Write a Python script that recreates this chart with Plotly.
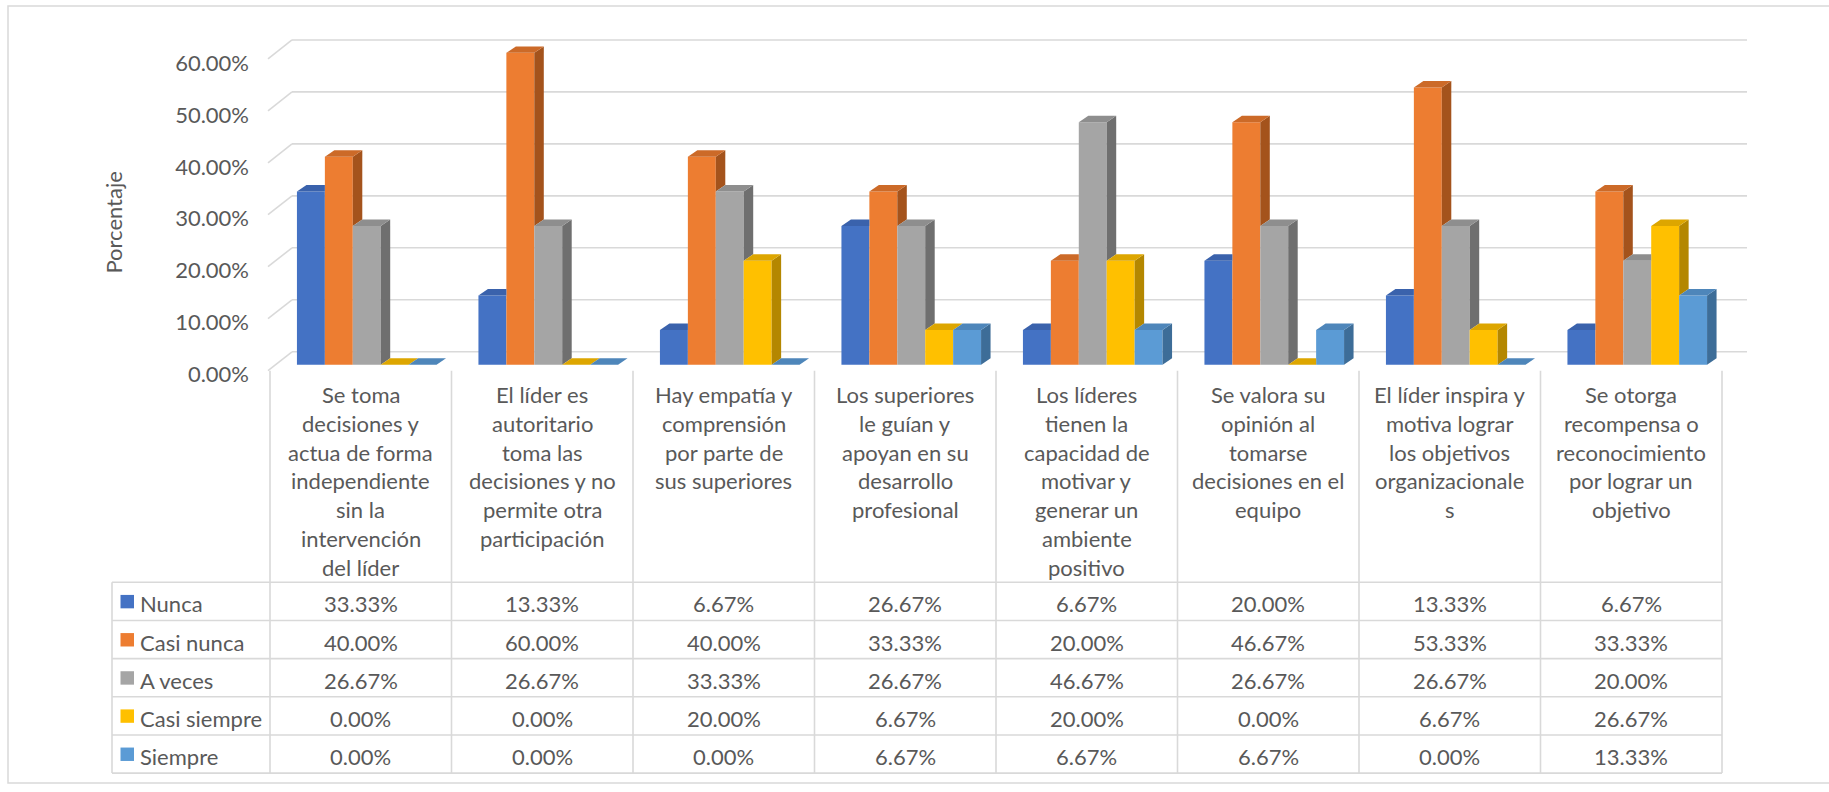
import plotly.graph_objects as go

# ---------------- data ----------------
categories = [
    "Se toma<br>decisiones y<br>actua de forma<br>independiente<br>sin la<br>intervención<br>del líder",
    "El líder es<br>autoritario<br>toma las<br>decisiones y no<br>permite otra<br>participación",
    "Hay empatía y<br>comprensión<br>por parte de<br>sus superiores",
    "Los superiores<br>le guían y<br>apoyan en su<br>desarrollo<br>profesional",
    "Los líderes<br>tienen la<br>capacidad de<br>motivar y<br>generar un<br>ambiente<br>positivo",
    "Se valora su<br>opinión al<br>tomarse<br>decisiones en el<br>equipo",
    "El líder inspira y<br>motiva lograr<br>los objetivos<br>organizacionale<br>s",
    "Se otorga<br>recompensa o<br>reconocimiento<br>por lograr un<br>objetivo",
]
series_names = ["Nunca", "Casi nunca", "A veces", "Casi siempre", "Siempre"]
nunca = [0.3333, 0.1333, 0.0667, 0.2667, 0.0667, 0.2000, 0.1333, 0.0667]
casi_nunca = [0.4000, 0.6000, 0.4000, 0.3333, 0.2000, 0.4667, 0.5333, 0.3333]
a_veces = [0.2667, 0.2667, 0.3333, 0.2667, 0.4667, 0.2667, 0.2667, 0.2000]
casi_siempre = [0.0000, 0.0000, 0.2000, 0.0667, 0.2000, 0.0000, 0.0667, 0.2667]
siempre = [0.0000, 0.0000, 0.0000, 0.0667, 0.0667, 0.0667, 0.0000, 0.1333]
y_ticks = [0, 0.1, 0.2, 0.3, 0.4, 0.5, 0.6]

series = [nunca, casi_nunca, a_veces, casi_siempre, siempre]
front_colors = ["#4472C4", "#ED7D31", "#A5A5A5", "#FFC000", "#5B9BD5"]
top_colors = ["#3A62AC", "#CC6A28", "#8E8E8E", "#DDA600", "#4E86BA"]
side_colors = ["#2E5597", "#A4531C", "#6F6F6F", "#B48700", "#3D6D98"]

# ---------------- geometry (pixels) ----------------
W, H = 1829, 792
TX0, CW = 270, 181.5          # table first column line, column width
SHIFT = 6                     # bar plane horizontal shift
Y0PX, YSCALE = 367, 523       # bar plane zero, px per unit
XD0, XD1 = 250, 1760
YD_TOP, YD_BOT = 20, 385
TEXT = "#595959"
GRID = "#D9D9D9"
FONT = "Lato"
FS = 22


def xdata(px):
    return (px - (TX0 + SHIFT)) / CW - 0.5


def ydata(px):
    return (Y0PX - px) / YSCALE


def fx(px):
    return px / W


def fy(py):
    return 1 - py / H


n_ser = len(series)
group_w = 5 / 6.5
bw = group_w / n_ser
DX = 9.5 / CW
DY = 6.5 / YSCALE

fig = go.Figure()

# front faces
for j, (name, vals) in enumerate(zip(series_names, series)):
    fig.add_trace(go.Bar(
        x=list(range(len(categories))), y=vals, name=name,
        marker=dict(color=front_colors[j], line=dict(width=0)),
        width=bw, offset=-group_w / 2 + j * bw, showlegend=False,
        hoverinfo="skip",
    ))

# side and top faces (3-D look)
for i in range(len(categories)):
    for j in range(n_ser):
        v = series[j][i]
        x0 = i - group_w / 2 + j * bw
        x1 = x0 + bw
        nxt = series[j + 1][i] if j + 1 < n_ser else None
        # side face
        low = 0 if nxt is None else nxt
        if v > low:
            xs = [x1, x1 + DX, x1 + DX, x1, x1]
            ys = [low, low + DY, v + DY, v, low]
            fig.add_trace(go.Scatter(x=xs, y=ys, fill="toself", mode="lines",
                                     line=dict(width=0), fillcolor=side_colors[j],
                                     showlegend=False, hoverinfo="skip"))
        # top face
        if nxt is not None and nxt > v:
            xs = [x0, x0 + DX, x1, x1, x0]
            ys = [v, v + DY, v + DY, v, v]
        else:
            xs = [x0, x0 + DX, x1 + DX, x1, x0]
            ys = [v, v + DY, v + DY, v, v]
        fig.add_trace(go.Scatter(x=xs, y=ys, fill="toself", mode="lines",
                                 line=dict(width=0), fillcolor=top_colors[j],
                                 showlegend=False, hoverinfo="skip"))

shapes = []
# gridlines (back wall + side wall diagonals)
for v in y_ticks:
    yb = v + 13 / YSCALE
    yf = v - 6 / YSCALE
    shapes.append(dict(type="line", xref="x", yref="y", layer="below",
                       x0=xdata(292), x1=xdata(1747), y0=yb, y1=yb,
                       line=dict(color=GRID, width=1.6)))
    shapes.append(dict(type="line", xref="x", yref="y", layer="below",
                       x0=xdata(268), x1=xdata(292), y0=yf, y1=yb,
                       line=dict(color=GRID, width=1.6)))

# outer chart border (left, top, bottom; right side is beyond the view)
shapes.append(dict(type="path", xref="paper", yref="paper",
                   path=f"M {fx(W + 5)},{fy(6)} L {fx(8)},{fy(6)} L {fx(8)},{fy(788)} L {fx(W + 5)},{fy(788)}",
                   line=dict(color=GRID, width=1.5)))

# data table
ROW_TOP, ROW_H = 586, 38.4
TAB_L = 112
n_cat = len(categories)
TAB_R = TX0 + CW * n_cat
TAB_B = ROW_TOP + ROW_H * n_ser
for k in range(n_cat + 1):
    xk = TX0 + CW * k
    shapes.append(dict(type="line", xref="paper", yref="paper",
                       x0=fx(xk), x1=fx(xk), y0=fy(373), y1=fy(TAB_B),
                       line=dict(color=GRID, width=1.6)))
shapes.append(dict(type="line", xref="paper", yref="paper",
                   x0=fx(TAB_L), x1=fx(TAB_L), y0=fy(ROW_TOP), y1=fy(TAB_B),
                   line=dict(color=GRID, width=1.6)))
for r in range(n_ser + 1):
    yr = ROW_TOP + ROW_H * r
    shapes.append(dict(type="line", xref="paper", yref="paper",
                       x0=fx(TAB_L), x1=fx(TAB_R), y0=fy(yr), y1=fy(yr),
                       line=dict(color=GRID, width=1.6)))

annotations = []
# header (category) labels
for k, cat in enumerate(categories):
    cx = TX0 + CW * (k + 0.5)
    for li, line in enumerate(cat.split("<br>")):
        annotations.append(dict(xref="paper", yref="paper", x=fx(cx), y=fy(397 + 29 * li),
                                text=line, showarrow=False, xanchor="center", yanchor="middle",
                                font=dict(family=FONT, size=FS, color=TEXT)))
# table values and legend keys
for r, (name, vals) in enumerate(zip(series_names, series)):
    cy = ROW_TOP + ROW_H * (r + 0.5)
    ty = cy + 2.5
    shapes.append(dict(type="rect", xref="paper", yref="paper",
                       x0=fx(120.5), x1=fx(134), y0=fy(cy + 7), y1=fy(cy - 6.5),
                       fillcolor=front_colors[r], line=dict(width=0)))
    annotations.append(dict(xref="paper", yref="paper", x=fx(138), y=fy(ty),
                            text=name, showarrow=False, xanchor="left", yanchor="middle",
                            font=dict(family=FONT, size=FS, color=TEXT)))
    for k, v in enumerate(vals):
        cx = TX0 + CW * (k + 0.5)
        annotations.append(dict(xref="paper", yref="paper", x=fx(cx), y=fy(ty),
                                text=f"{v:.2%}", showarrow=False, xanchor="center",
                                yanchor="middle",
                                font=dict(family=FONT, size=FS, color=TEXT)))
# axis title
annotations.append(dict(xref="paper", yref="paper", x=fx(114), y=fy(224),
                        text="Porcentaje", textangle=-90, showarrow=False,
                        xanchor="center", yanchor="middle",
                        font=dict(family=FONT, size=FS, color=TEXT)))

fig.update_layout(
    width=W, height=H,
    margin=dict(l=0, r=0, t=0, b=0),
    paper_bgcolor="white", plot_bgcolor="rgba(0,0,0,0)",
    barmode="overlay",
    showlegend=False,
    shapes=shapes,
    annotations=annotations,
    xaxis=dict(domain=[fx(XD0), fx(XD1)], range=[xdata(XD0), xdata(XD1)],
               showgrid=False, zeroline=False, showline=False,
               showticklabels=False, ticks=""),
    yaxis=dict(domain=[fy(YD_BOT), fy(YD_TOP)], range=[ydata(YD_BOT), ydata(YD_TOP)],
               tickvals=y_ticks, tickformat=".2%", ticks="",
               showgrid=False, zeroline=False, showline=False,
               ticklabelshift=10,
               tickfont=dict(family=FONT, size=FS, color=TEXT)),
    font=dict(family=FONT, size=FS, color=TEXT),
)

fig.write_html("out.html")
